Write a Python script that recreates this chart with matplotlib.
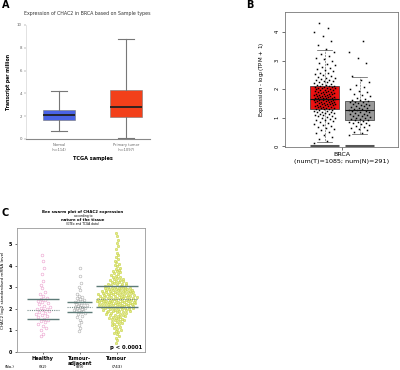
import numpy as np
import matplotlib
matplotlib.use("Agg")
from matplotlib import pyplot as plt

# ---- panel A : box stats (TPM) ----
a_groups = ["Normal\n(n=114)", "Primary tumor\n(n=1097)"]
a_whislo = [0.67, 0.11]
a_q1 = [1.69, 1.92]
a_med = [2.13, 2.85]
a_q3 = [2.50, 4.29]
a_whishi = [4.17, 8.78]
a_colors = ["#4a63e6", "#f2401a"]

# ---- panel B : log2(TPM+1) ----
b_whislo = [0.14, 0.41]
b_q1 = [1.30, 0.93]
b_med = [1.66, 1.25]
b_q3 = [2.11, 1.57]
b_whishi = [3.37, 2.44]
b_tumor = [0.12, 0.18, 0.25, 0.33, 0.38, 0.45, 0.5, 0.55, 0.6, 0.64, 0.68, 0.72, 0.75, 0.78, 0.81, 0.84, 0.87, 0.9, 0.93, 0.96,
           0.98, 1.0, 1.02, 1.04, 1.06, 1.08, 1.1, 1.12, 1.13, 1.15, 1.17, 1.18, 1.2, 1.21, 1.23, 1.24, 1.26, 1.27, 1.29, 1.3,
           1.31, 1.32, 1.33, 1.35, 1.36, 1.37, 1.38, 1.39, 1.41, 1.42, 1.43, 1.44, 1.45, 1.46, 1.47, 1.48, 1.49, 1.5, 1.51, 1.52,
           1.53, 1.54, 1.55, 1.56, 1.57, 1.58, 1.59, 1.6, 1.6, 1.61, 1.62, 1.63, 1.64, 1.64, 1.65, 1.66, 1.66, 1.67, 1.68, 1.68,
           1.69, 1.7, 1.71, 1.72, 1.73, 1.74, 1.75, 1.76, 1.77, 1.78, 1.79, 1.8, 1.81, 1.82, 1.83, 1.84, 1.85, 1.86, 1.88, 1.89,
           1.9, 1.91, 1.93, 1.94, 1.95, 1.97, 1.98, 1.99, 2.0, 2.02, 2.03, 2.04, 2.05, 2.06, 2.07, 2.08, 2.09, 2.1, 2.11, 2.13,
           2.15, 2.17, 2.19, 2.21, 2.23, 2.25, 2.27, 2.29, 2.31, 2.33, 2.36, 2.38, 2.4, 2.43, 2.46, 2.49, 2.52, 2.55, 2.58, 2.62,
           2.66, 2.7, 2.74, 2.78, 2.83, 2.88, 2.93, 2.98, 3.04, 3.1, 3.17, 3.24, 3.31, 3.4, 3.55, 3.7, 3.85, 4.0, 4.15, 4.3]
b_normal = [0.4, 0.45, 0.5, 0.55, 0.6, 0.64, 0.68, 0.71, 0.74, 0.77, 0.8, 0.82, 0.84, 0.86, 0.88, 0.9, 0.92,
            0.94, 0.96, 0.98, 1.0, 1.02, 1.04, 1.06, 1.08, 1.1, 1.12, 1.14, 1.16, 1.18, 1.2, 1.22, 1.24, 1.25,
            1.27, 1.29, 1.31, 1.33, 1.35, 1.37, 1.39, 1.41, 1.43, 1.45, 1.47, 1.49, 1.51, 1.53, 1.55, 1.56, 1.57,
            1.6, 1.63, 1.66, 1.7, 1.74, 1.78, 1.83, 1.88, 1.93, 1.99, 2.06, 2.14, 2.23, 2.33, 2.45, 2.9, 3.1, 3.3, 3.7]

# ---- panel C : bee swarm ----
c_labels = ["Healthy", "Tumour-\nadjacent", "Tumour"]
c_counts = ["(92)", "(89)", "(743)"]
c_low = [1.52, 1.87, 2.08]
c_mid = [1.95, 2.07, 2.45]
c_high = [2.45, 2.33, 3.05]
c_healthy = [0.75, 0.85, 1.0, 1.1, 1.2, 1.3, 1.38, 1.45, 1.5, 1.55, 1.6, 1.65, 1.7, 1.75, 1.8, 1.85, 1.9, 1.93, 1.97, 2.0,
             2.05, 2.1, 2.15, 2.2, 2.25, 2.3, 2.35, 2.4, 2.45, 2.5, 2.6, 2.7, 2.8, 2.95, 3.1, 3.3, 3.6, 3.9, 4.2, 4.5]
c_adjacent = [0.95, 1.1, 1.25, 1.4, 1.5, 1.6, 1.68, 1.75, 1.8, 1.85, 1.88, 1.9, 1.93, 1.96, 1.99, 2.02, 2.04, 2.06, 2.08, 2.1,
              2.13, 2.16, 2.19, 2.22, 2.25, 2.28, 2.31, 2.34, 2.38, 2.42, 2.46, 2.5, 2.55, 2.6, 2.7, 2.85, 3.0, 3.2, 3.5, 3.9]
c_tumour = [0.4, 0.55, 0.65, 0.75, 0.82, 0.88, 0.93, 0.98,
            1.03, 1.08, 1.12, 1.16, 1.2, 1.24, 1.28, 1.31, 1.34, 1.37, 1.4, 1.43, 1.46, 1.49,
            1.51, 1.53, 1.55, 1.57, 1.59, 1.61, 1.63, 1.65, 1.67, 1.69, 1.71, 1.73, 1.75, 1.77, 1.79, 1.81, 1.83, 1.85,
            1.87, 1.88, 1.9, 1.91, 1.92, 1.94, 1.95, 1.96, 1.98, 1.99,
            2.0, 2.01, 2.02, 2.03, 2.04, 2.05, 2.06, 2.07, 2.08, 2.09, 2.1, 2.11, 2.12, 2.13, 2.14, 2.15, 2.16, 2.17, 2.18, 2.19,
            2.2, 2.21, 2.22, 2.23, 2.24, 2.25, 2.25, 2.26, 2.27, 2.28, 2.29, 2.3, 2.3, 2.31, 2.32, 2.33, 2.34, 2.35, 2.35, 2.36,
            2.37, 2.38, 2.39, 2.4, 2.4, 2.41, 2.42, 2.43, 2.44, 2.45, 2.45, 2.46, 2.47, 2.48, 2.49,
            2.5, 2.51, 2.52, 2.53, 2.54, 2.55, 2.56, 2.57, 2.58, 2.59, 2.6, 2.61, 2.62, 2.63, 2.64, 2.65, 2.66, 2.67, 2.68, 2.69,
            2.7, 2.71, 2.72, 2.73, 2.74, 2.75, 2.76, 2.77, 2.78, 2.79, 2.8, 2.81, 2.82, 2.83, 2.84, 2.85, 2.86, 2.87, 2.88, 2.89,
            2.9, 2.91, 2.92, 2.93, 2.94, 2.95, 2.96, 2.97, 2.98, 2.99,
            3.01, 3.03, 3.05, 3.07, 3.09, 3.11, 3.13, 3.15, 3.17, 3.19, 3.21, 3.23, 3.25, 3.27, 3.29, 3.31, 3.34, 3.37, 3.4, 3.43,
            3.46, 3.49, 3.53, 3.57, 3.61, 3.65, 3.69, 3.73, 3.77, 3.81, 3.86, 3.91, 3.96, 4.02, 4.08, 4.15, 4.22, 4.3, 4.38, 4.47,
            4.6, 4.75, 4.9, 5.05, 5.2, 5.35, 5.5]

W, H = 400, 370
fig = plt.figure(figsize=(W / 100, H / 100), dpi=100)
fig.patch.set_facecolor("white")
golden = 0.6180339887


def px_axes(l, t, r, b):
    return fig.add_axes([l / W, 1 - b / H, (r - l) / W, (b - t) / H])


def ftext(x, y, s, **kw):
    fig.text(x / W, 1 - y / H, s, **kw)


def box_stats(lo, q1, med, q3, hi):
    return [dict(whislo=lo[i], q1=q1[i], med=med[i], q3=q3[i], whishi=hi[i], fliers=[])
            for i in range(len(med))]


def sina(vals, maxw, bw):
    # spread points sideways in proportion to local density (violin-shaped swarm)
    v = np.asarray(vals)
    dens = np.array([np.sum(np.abs(v - y) < bw) for y in v], dtype=float)
    w = maxw * dens / dens.max()
    frac = (np.arange(len(v)) * golden) % 1.0 - 0.5
    return 2 * frac * w


# ================= A =================
axA = px_axes(26, 25, 150, 139)
axA.bxp(box_stats(a_whislo, a_q1, a_med, a_q3, a_whishi), positions=[1, 2], widths=0.48,
        patch_artist=True, showfliers=False,
        boxprops=dict(linewidth=0.4, edgecolor="#777777"),
        medianprops=dict(color="#202020", linewidth=1.3),
        whiskerprops=dict(color="#777777", linewidth=0.8),
        capprops=dict(color="#777777", linewidth=0.8))
for p, c in zip(axA.patches, a_colors):
    p.set_facecolor(c)
axA.set_xlim(0.507, 2.36)
axA.set_ylim(0, 10)
axA.set_yticks([0, 2, 4, 6, 8, 10])
axA.set_xticks([1, 2])
axA.set_xticklabels(a_groups, fontsize=2.6, color="#666666", linespacing=1.3)
axA.tick_params(axis="y", labelsize=2.8, colors="#666666", length=1.5, width=0.3, pad=1.5)
axA.tick_params(axis="x", length=0, pad=3)
for s in ["top", "right"]:
    axA.spines[s].set_visible(False)
axA.spines["left"].set_color("#cccccc")
axA.spines["left"].set_linewidth(0.4)
axA.spines["bottom"].set_color("#888888")
axA.spines["bottom"].set_linewidth(0.8)
axA.set_ylabel("Transcript per million", fontsize=3.3, fontweight="bold", labelpad=4)
ftext(87, 13, "Expression of CHAC2 in BRCA based on Sample types", fontsize=3.4,
      ha="center", va="center", color="#333333")
ftext(93, 158, "TCGA samples", fontsize=3.6, fontweight="bold", ha="center", va="center")
ftext(2, 5, "A", fontsize=7, fontweight="bold", ha="left", va="center")

# ================= B =================
axB = px_axes(285, 12, 398, 147)
b_pos = [-0.5, 0.5]
axB.bxp(box_stats(b_whislo, b_q1, b_med, b_q3, b_whishi), positions=b_pos, widths=0.83,
        patch_artist=True, showfliers=False,
        boxprops=dict(linewidth=0.5, edgecolor="#333333"),
        medianprops=dict(color="#111111", linewidth=0.8),
        whiskerprops=dict(color="#555555", linewidth=0.4, linestyle="--"),
        capprops=dict(color="#555555", linewidth=0.5))
axB.patches[0].set_facecolor("#ee1111")
axB.patches[1].set_facecolor("#999999")
for pos, vals in zip(b_pos, [b_tumor, b_normal]):
    idx = np.arange(len(vals))
    jit = ((idx * golden) % 1.0 - 0.5) * 0.62
    axB.plot(pos + jit, vals, "s", ms=1.1, color="black", mec="none")
    axB.hlines(0, pos - 0.415, pos + 0.415, color="#555555", linewidth=2.2)
axB.set_xlim(-1.63, 1.6)
axB.set_ylim(-0.03, 4.7)
axB.set_xticks([0])
axB.set_xticklabels([""])
axB.set_yticks([0, 1, 2, 3, 4])
axB.tick_params(axis="y", labelsize=3.8, length=2, width=0.4, pad=2, labelrotation=90)
axB.tick_params(axis="x", length=2, width=0.4)
for s in axB.spines.values():
    s.set_color("#777777")
    s.set_linewidth(0.6)
axB.set_ylabel("Expression - log$_2$(TPM + 1)", fontsize=4.0, labelpad=6)
ftext(342, 155, "BRCA", fontsize=4.6, ha="center", va="center")
ftext(342, 162, "(num(T)=1085; num(N)=291)", fontsize=4.6, ha="center", va="center")
ftext(246, 5, "B", fontsize=7, fontweight="bold", ha="left", va="center")

# ================= C =================
axC = px_axes(17, 228, 145, 352)
c_pos = [1, 2, 3]
sx = 128 / (3.76 - 0.30)
styles = [dict(mfc="none", mec="#e993c6", mew=0.35, ms=2.0),
          dict(mfc="none", mec="#a5a5a5", mew=0.35, ms=2.0),
          dict(mfc="#e6ec86", mec="#bcc935", mew=0.3, ms=1.8)]
spread = [0.22, 0.19, 0.55]
half = [0.44, 0.34, 0.57]
for i, vals in enumerate([c_healthy, c_adjacent, c_tumour]):
    offs = sina(vals, spread[i], 0.35)
    axC.plot(c_pos[i] + offs, vals, "o", linestyle="none", **styles[i])
    p = c_pos[i]
    axC.hlines([c_low[i], c_high[i]], p - half[i], p + half[i], color="#5d7b78", linewidth=1.0)
    axC.hlines(c_mid[i], p - half[i], p + half[i], color="#7b8f8c", linewidth=0.8, linestyles=(0, (1, 1)))
axC.set_xlim(0.30, 3.76)
axC.set_ylim(0, 5.74)
axC.set_yticks([0, 1, 2, 3, 4, 5])
axC.set_xticks(c_pos)
axC.set_xticklabels(c_labels, fontsize=3.6, fontweight="bold", linespacing=1.0)
axC.tick_params(axis="y", labelsize=3.4, length=1.5, width=0.4, pad=2)
axC.tick_params(axis="x", length=1.5, width=0.4, pad=1.5)
for lab in axC.get_yticklabels():
    lab.set_fontweight("bold")
for s in axC.spines.values():
    s.set_color("#999999")
    s.set_linewidth(0.6)
axC.set_ylabel("CHAC2 log2 standardised mRNA level", fontsize=3.0, labelpad=3)
axC.text(0.98, 0.02, "p < 0.0001", transform=axC.transAxes, fontsize=3.8, fontweight="bold",
         ha="right", va="bottom")
ftext(5, 367, "(No.)", fontsize=3.0, ha="left", va="center")
for p, n in zip(c_pos, c_counts):
    ftext(17 + (p - 0.30) * sx, 367, n, fontsize=3.0, ha="center", va="center")
ftext(83, 212, "Bee swarm plot of CHAC2 expression", fontsize=2.8, fontweight="bold", ha="center", va="center")
ftext(83, 215.5, "according to", fontsize=2.2, ha="center", va="center")
ftext(83, 219.5, "nature of the tissue", fontsize=2.8, fontweight="bold", ha="center", va="center")
ftext(83, 223.5, "(GTEx and TCGA data)", fontsize=2.2, ha="center", va="center")
ftext(2, 213, "C", fontsize=7, fontweight="bold", ha="left", va="center")

fig.savefig("out.png", dpi=100, facecolor="white")
